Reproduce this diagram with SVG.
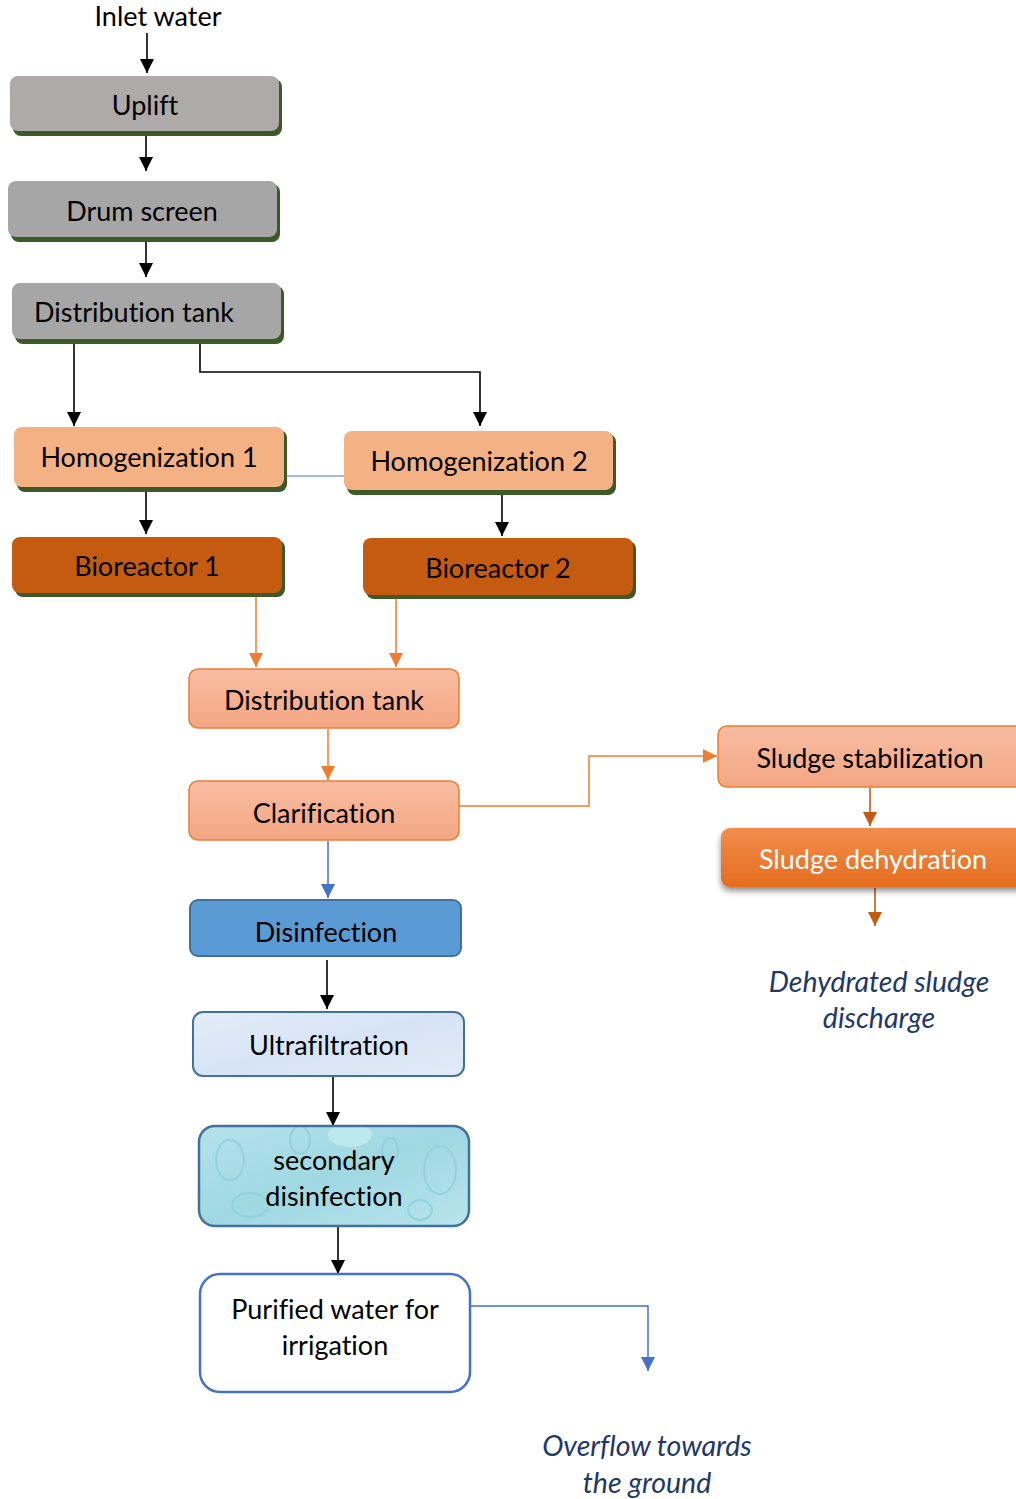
<svg xmlns="http://www.w3.org/2000/svg" width="1016" height="1499" viewBox="0 0 1016 1499">
<style>
text{font-family:Lato,"Open Sans","Liberation Sans",sans-serif;font-size:27px;text-anchor:middle;fill:#000;font-variant-ligatures:none}
.it{font-style:italic;fill:#1F3864;font-size:28.5px}
.w{fill:#fff}
.blk{stroke:#000;stroke-width:1.6;fill:none}
.org{stroke:#ED7D31;stroke-width:1.5;fill:none}
.brn{stroke:#C55A11;stroke-width:1.6;fill:none}
.blu{stroke:#4472C4;stroke-width:1.5;fill:none}
.sh{fill:#3B5A28}
.gray1{fill:#AEAAAA}
.gray2{fill:#A6A6A6}
.peach{fill:#F4B183}
.rust{fill:#C55A11}
.salmon{fill:url(#gSal);stroke:#ED7D31;stroke-width:1.5}
</style>
<defs>
<marker id="aBlk" viewBox="0 0 10 10" refX="10" refY="5" markerWidth="14" markerHeight="14" markerUnits="userSpaceOnUse" orient="auto"><path d="M0,0L10,5L0,10z" fill="#000"/></marker>
<marker id="aOrg" viewBox="0 0 10 10" refX="10" refY="5" markerWidth="14" markerHeight="14" markerUnits="userSpaceOnUse" orient="auto"><path d="M0,0L10,5L0,10z" fill="#ED7D31"/></marker>
<marker id="aBrn" viewBox="0 0 10 10" refX="10" refY="5" markerWidth="14" markerHeight="14" markerUnits="userSpaceOnUse" orient="auto"><path d="M0,0L10,5L0,10z" fill="#C55A11"/></marker>
<marker id="aBlu" viewBox="0 0 10 10" refX="10" refY="5" markerWidth="14" markerHeight="14" markerUnits="userSpaceOnUse" orient="auto"><path d="M0,0L10,5L0,10z" fill="#4472C4"/></marker>
<linearGradient id="gSal" x1="0" y1="0" x2="0" y2="1"><stop offset="0" stop-color="#F8BDA2"/><stop offset="1" stop-color="#F4A683"/></linearGradient>
<linearGradient id="gOr" x1="0" y1="0" x2="0" y2="1"><stop offset="0" stop-color="#F28D4E"/><stop offset="1" stop-color="#E56C1D"/></linearGradient>
<linearGradient id="gUf" x1="0" y1="0" x2="1" y2="1"><stop offset="0" stop-color="#E4ECF8"/><stop offset="0.5" stop-color="#D6E4F6"/><stop offset="1" stop-color="#E2EAF6"/></linearGradient>
<linearGradient id="gSd" x1="0" y1="0" x2="1" y2="1"><stop offset="0" stop-color="#B5E2EA"/><stop offset="0.5" stop-color="#9FD8E2"/><stop offset="1" stop-color="#B9E4EC"/></linearGradient>
<filter id="ds" x="-10%" y="-20%" width="120%" height="160%"><feGaussianBlur in="SourceAlpha" stdDeviation="3"/><feOffset dy="4"/><feComponentTransfer><feFuncA type="linear" slope="0.45"/></feComponentTransfer><feMerge><feMergeNode/><feMergeNode in="SourceGraphic"/></feMerge></filter>
<clipPath id="cSd"><rect x="199" y="1126" width="270" height="100" rx="16"/></clipPath>
</defs>

<text x="158" y="26">Inlet water</text>

<g id="connectors">
<line class="blk" x1="147" y1="33" x2="147" y2="73" marker-end="url(#aBlk)"/>
<line class="blk" x1="146" y1="132" x2="146" y2="171" marker-end="url(#aBlk)"/>
<line class="blk" x1="146" y1="238" x2="146" y2="277" marker-end="url(#aBlk)"/>
<line class="blk" x1="74" y1="340" x2="74" y2="426" marker-end="url(#aBlk)"/>
<polyline class="blk" points="200,340 200,372 480,372 480,426" marker-end="url(#aBlk)"/>
<line stroke="#4472C4" stroke-width="1.2" x1="287" y1="476" x2="344" y2="476"/>
<line class="blk" x1="146" y1="492" x2="146" y2="534" marker-end="url(#aBlk)"/>
<line class="blk" x1="502" y1="495" x2="502" y2="536" marker-end="url(#aBlk)"/>
<line class="org" x1="256" y1="593" x2="256" y2="667" marker-end="url(#aOrg)"/>
<line class="org" x1="396" y1="596" x2="396" y2="667" marker-end="url(#aOrg)"/>
<line class="org" x1="328" y1="729" x2="328" y2="780" marker-end="url(#aOrg)"/>
<polyline class="org" points="459,806 589,806 589,756 717,756" marker-end="url(#aOrg)"/>
<line class="brn" x1="870" y1="788" x2="870" y2="826" marker-end="url(#aBrn)"/>
<line class="brn" x1="875" y1="888" x2="875" y2="926" marker-end="url(#aBrn)"/>
<line class="blu" x1="328" y1="841" x2="328" y2="898" marker-end="url(#aBlu)"/>
<line class="blk" x1="327" y1="960" x2="327" y2="1009" marker-end="url(#aBlk)"/>
<line class="blk" x1="333" y1="1077" x2="333" y2="1126" marker-end="url(#aBlk)"/>
<line class="blk" x1="338" y1="1227" x2="338" y2="1274" marker-end="url(#aBlk)"/>
<polyline class="blu" points="470,1306 648,1306 648,1371" marker-end="url(#aBlu)"/>
</g>

<g id="uplift">
<rect class="sh" x="13" y="79" width="269" height="57" rx="8"/>
<rect class="gray1" x="10" y="76" width="269" height="55" rx="8"/>
<text x="145" y="115">Uplift</text>
</g>
<g id="drum-screen">
<rect class="sh" x="11" y="184" width="269" height="58" rx="8"/>
<rect class="gray2" x="8" y="181" width="269" height="56" rx="8"/>
<text x="142" y="221">Drum screen</text>
</g>
<g id="distribution-tank-1">
<rect class="sh" x="15" y="286" width="269" height="58" rx="8"/>
<rect class="gray2" x="12" y="283" width="269" height="56" rx="8"/>
<text x="134" y="322">Distribution tank</text>
</g>
<g id="homogenization-1">
<rect class="sh" x="17" y="430" width="270" height="62" rx="8"/>
<rect class="peach" x="14" y="427" width="270" height="60" rx="8"/>
<text x="149" y="467">Homogenization 1</text>
</g>
<g id="homogenization-2">
<rect class="sh" x="347" y="434" width="269" height="61" rx="8"/>
<rect class="peach" x="344" y="431" width="269" height="59" rx="8"/>
<text x="479" y="471">Homogenization 2</text>
</g>
<g id="bioreactor-1">
<rect class="sh" x="15" y="540" width="270" height="57" rx="8"/>
<rect class="rust" x="12" y="537" width="270" height="56" rx="8"/>
<text x="147" y="576">Bioreactor 1</text>
</g>
<g id="bioreactor-2">
<rect class="sh" x="366" y="541" width="270" height="58" rx="8"/>
<rect class="rust" x="363" y="538" width="270" height="57" rx="8"/>
<text x="498" y="578">Bioreactor 2</text>
</g>
<g id="distribution-tank-2">
<rect class="salmon" x="189" y="669" width="270" height="59" rx="9"/>
<text x="324" y="710">Distribution tank</text>
</g>
<g id="clarification">
<rect class="salmon" x="189" y="781" width="270" height="59" rx="9"/>
<text x="324" y="823">Clarification</text>
</g>
<g id="sludge-stabilization">
<rect class="salmon" x="718" y="726" width="310" height="61" rx="9"/>
<text x="870" y="768">Sludge stabilization</text>
</g>
<g id="sludge-dehydration">
<rect fill="url(#gOr)" filter="url(#ds)" x="721" y="828" width="310" height="59" rx="9"/>
<text class="w" x="873" y="869">Sludge dehydration</text>
</g>
<g id="dehydrated-sludge-discharge">
<text class="it" x="879" y="992">Dehydrated sludge</text>
<text class="it" x="879" y="1028">discharge</text>
</g>
<g id="disinfection">
<rect fill="#5B9BD5" stroke="#41719C" stroke-width="2" x="190" y="900" width="271" height="56" rx="8"/>
<text x="326" y="942">Disinfection</text>
</g>
<g id="ultrafiltration">
<rect fill="url(#gUf)" stroke="#41719C" stroke-width="2" x="193" y="1012" width="271" height="64" rx="10"/>
<text x="329" y="1055">Ultrafiltration</text>
</g>
<g id="secondary-disinfection">
<rect fill="url(#gSd)" x="199" y="1126" width="270" height="100" rx="16"/>
<g clip-path="url(#cSd)" fill="none" stroke="#8ECFDB" stroke-width="2" opacity="0.8">
<ellipse cx="230" cy="1160" rx="14" ry="20"/>
<ellipse cx="300" cy="1140" rx="10" ry="14"/>
<ellipse cx="440" cy="1170" rx="16" ry="24"/>
<ellipse cx="420" cy="1210" rx="12" ry="10"/>
<ellipse cx="250" cy="1205" rx="18" ry="12"/>
<ellipse cx="350" cy="1135" rx="22" ry="12" fill="#C3EBF1" stroke="none"/>
<ellipse cx="390" cy="1150" rx="8" ry="12"/>
</g>
<rect fill="none" stroke="#41719C" stroke-width="2.5" x="199" y="1126" width="270" height="100" rx="16"/>
<text x="334" y="1170">secondary</text>
<text x="334" y="1206">disinfection</text>
</g>
<g id="purified-water">
<rect fill="#fff" stroke="#4472C4" stroke-width="2.5" x="200" y="1274" width="270" height="118" rx="20"/>
<text x="335" y="1319">Purified water for</text>
<text x="335" y="1355">irrigation</text>
</g>
<g id="overflow">
<text class="it" x="647" y="1456">Overflow towards</text>
<text class="it" x="647" y="1493">the ground</text>
</g>
</svg>
